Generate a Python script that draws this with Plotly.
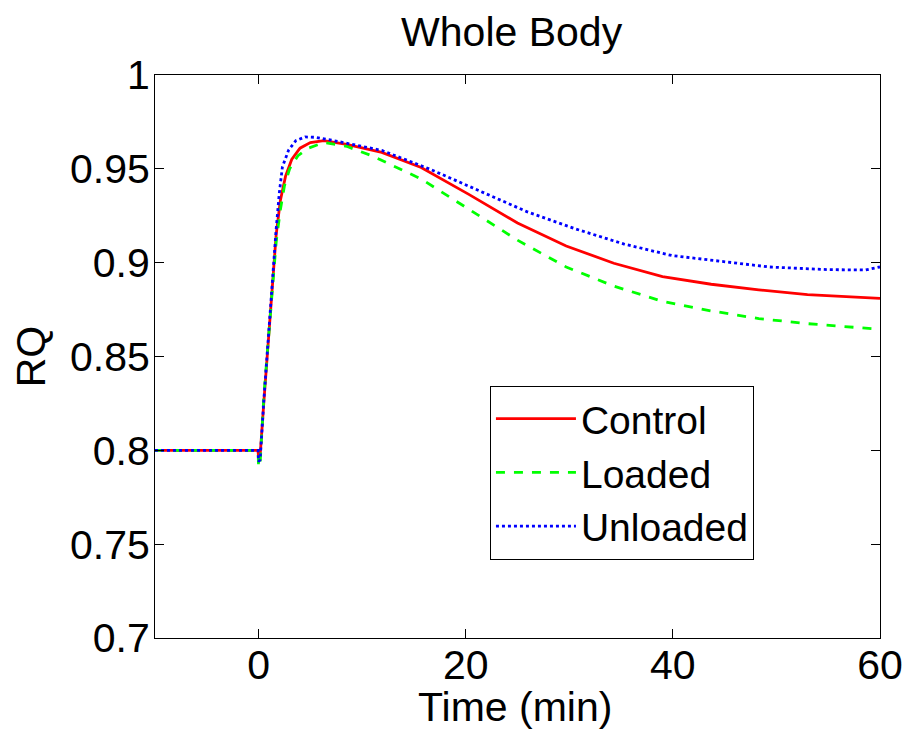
import plotly.graph_objects as go

# Data
time_control = [-10, -0.05, 0.0, 0.15, 0.5, 1.0, 1.4, 1.7, 2.1, 2.6, 3.2, 4.0, 5.0, 6.3, 8.5,
                11.9, 15.7, 20.3, 25, 29.7, 34.3, 39, 43.7, 48.3, 53, 60]
rq_control = [0.8, 0.8, 0.796, 0.797, 0.825, 0.862, 0.895, 0.915, 0.933, 0.946, 0.955, 0.961,
              0.964, 0.965, 0.963, 0.9588, 0.9507, 0.9364, 0.9211, 0.9089, 0.8997, 0.8926,
              0.8885, 0.8855, 0.883, 0.881]

time_loaded = [-10, -0.05, 0.0, 0.15, 0.5, 1.0, 1.4, 1.7, 2.1, 2.5, 3.0, 3.8, 4.8, 6.3, 8.5,
               11, 15.7, 20.3, 25, 29.7, 34.3, 39, 43.7, 48.3, 53, 60]
rq_loaded = [0.8, 0.8, 0.791, 0.793, 0.828, 0.864, 0.893, 0.911, 0.928, 0.941, 0.950, 0.957,
             0.961, 0.964, 0.962, 0.9568, 0.9446, 0.9283, 0.912, 0.8977, 0.8875, 0.8794,
             0.8743, 0.8702, 0.8675, 0.8645]

time_unloaded = [-10, -0.05, 0.0, 0.15, 0.5, 1.0, 1.4, 1.7, 2.0, 2.3, 2.9, 3.6, 4.5, 5.5, 7.3,
                 11.9, 16.6, 21.3, 25.9, 30.6, 35.3, 39.9, 44.6, 49.3, 54.9, 58.6, 60]
rq_unloaded = [0.8, 0.8, 0.794, 0.795, 0.826, 0.864, 0.898, 0.918, 0.937, 0.951, 0.960, 0.965,
               0.967, 0.9668, 0.965, 0.9598, 0.9497, 0.9385, 0.9272, 0.918, 0.9099, 0.9038,
               0.9008, 0.8977, 0.8963, 0.8961, 0.8977]

x_tick_vals = [0, 20, 40, 60]
y_tick_vals = [0.7, 0.75, 0.8, 0.85, 0.9, 0.95, 1.0]
y_tick_text = ["0.7", "0.75", "0.8", "0.85", "0.9", "0.95", "1"]
x_title = "Time (min)"

FONT = "Liberation Sans, Arial, sans-serif"
FS = 41

fig = go.Figure()
fig.add_trace(go.Scatter(x=time_control, y=rq_control, mode="lines", name="Control",
                         line=dict(color="#ff0000", width=2.8, dash="solid")))
fig.add_trace(go.Scatter(x=time_loaded, y=rq_loaded, mode="lines", name="Loaded",
                         line=dict(color="#00ff00", width=2.8, dash="dash")))
fig.add_trace(go.Scatter(x=time_unloaded, y=rq_unloaded, mode="lines", name="Unloaded",
                         line=dict(color="#0000ff", width=2.8, dash="dot")))

fig.update_layout(
    width=914, height=727,
    margin=dict(l=147, r=42, t=67, b=97, autoexpand=False),
    paper_bgcolor="white", plot_bgcolor="white",
    font=dict(family=FONT, size=FS, color="black"),
    title=dict(text="Whole Body", x=0.551, xanchor="center", y=0.967, yanchor="middle",
               font=dict(family=FONT, size=FS, color="black")),
    legend=dict(x=0.462, y=0.448, xanchor="left", yanchor="top",
                bgcolor="white", bordercolor="black", borderwidth=1,
                font=dict(family=FONT, size=39, color="black"),
                tracegroupgap=0, itemwidth=80),
    showlegend=True,
    annotations=[dict(text=x_title, xref="paper", yref="paper", x=0.4966, y=-0.1226,
                      xanchor="center", yanchor="middle", showarrow=False,
                      font=dict(family=FONT, size=FS, color="black"))],
)
fig.update_xaxes(range=[-10, 60], tickvals=x_tick_vals, ticks="inside", ticklen=9,
                 tickcolor="black", showline=True, linecolor="black", linewidth=1,
                 mirror="ticks", showgrid=False, zeroline=False, ticklabelstandoff=-9,
                 automargin=False, tickfont=dict(size=FS))
fig.update_yaxes(range=[0.7, 1.0], tickvals=y_tick_vals, ticktext=y_tick_text,
                 ticks="inside", ticklen=9, tickcolor="black", showline=True,
                 linecolor="black", linewidth=1, mirror="ticks", showgrid=False,
                 zeroline=False, ticklabelstandoff=-4, automargin=False,
                 title=dict(text="RQ", standoff=12, font=dict(size=FS)),
                 tickfont=dict(size=FS))

fig.write_html("out.html")
